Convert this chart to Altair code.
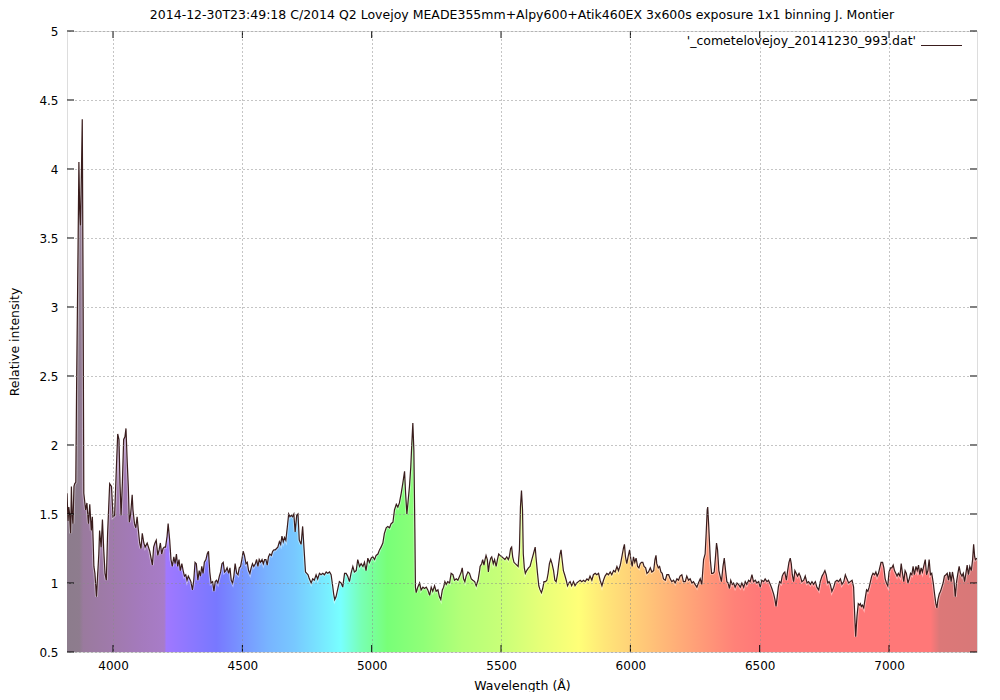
import altair as alt
import pandas as pd

FONT = "DejaVu Sans"
W, H = 910, 621
X_MIN, X_MAX = 3822, 7340

# ---- spectrum (wavelength in Angstrom, relative intensity) ----
wl_cn = [3822, 3826, 3829, 3832, 3836, 3839, 3842, 3845, 3849, 3852, 3856, 3859, 3864, 3868,
         3871, 3874, 3878, 3881, 3884, 3887]
in_cn = [1.65, 1.45, 1.55, 1.50, 1.36, 1.70, 1.50, 1.43, 1.70, 1.72, 1.73, 2.40, 3.30, 4.05,
         3.70, 3.59, 4.00, 4.36, 3.20, 1.65]

wl_violet = [3894, 3899, 3905, 3910, 3916, 3920, 3923, 3926, 3930, 3936, 3939, 3945, 3948, 3954,
             3959, 3964, 3969, 3974, 3979, 3987, 3994, 4000, 4006, 4013, 4018, 4023, 4027, 4031,
             4036, 4041, 4046, 4050, 4055, 4059, 4063, 4068, 4074, 4077, 4083, 4088, 4093, 4098,
             4103, 4108, 4113, 4119, 4124, 4132, 4137, 4142, 4147, 4152, 4157, 4162, 4167, 4173,
             4178, 4183, 4188, 4193, 4198, 4203, 4209, 4213, 4219, 4224, 4229, 4235, 4240, 4245,
             4250, 4255, 4260, 4266, 4271, 4276, 4281, 4286, 4291, 4296, 4301, 4307, 4312, 4317,
             4322, 4328, 4333, 4338, 4343, 4348, 4353, 4359, 4364, 4369, 4374, 4379, 4385, 4390,
             4395, 4400]
in_violet = [1.53, 1.58, 1.43, 1.57, 1.38, 1.48, 1.31, 1.12, 1.07, 0.90, 1.01, 1.21, 1.38, 1.26,
             1.46, 1.24, 1.07, 1.02, 1.36, 1.72, 1.70, 1.48, 1.49, 1.84, 2.08, 2.04, 1.72, 1.49,
             1.72, 2.04, 2.06, 2.12, 1.87, 1.70, 1.44, 1.50, 1.64, 1.53, 1.43, 1.40, 1.48, 1.38,
             1.29, 1.25, 1.36, 1.29, 1.26, 1.29, 1.26, 1.23, 1.18, 1.13, 1.26, 1.29, 1.31, 1.20,
             1.24, 1.29, 1.21, 1.25, 1.26, 1.26, 1.34, 1.43, 1.31, 1.17, 1.12, 1.19, 1.14, 1.21,
             1.12, 1.17, 1.09, 1.14, 1.09, 1.05, 1.06, 1.02, 1.05, 1.03, 1.01, 0.95, 1.02, 1.15,
             1.14, 1.02, 1.09, 1.05, 1.12, 1.07, 1.15, 1.17, 1.21, 1.23, 1.08, 1.00, 1.01, 0.94,
             1.01, 1.02]

wl_blue = [4405, 4411, 4416, 4421, 4426, 4431, 4436, 4441, 4447, 4452, 4457, 4462, 4467, 4472,
           4478, 4483, 4488, 4493, 4498, 4503, 4508, 4514, 4519, 4524, 4529, 4534, 4539, 4544,
           4550, 4555, 4560, 4565, 4570, 4576, 4581, 4586, 4591, 4596, 4601, 4606, 4612, 4617,
           4622, 4627, 4632, 4637, 4643, 4648, 4653, 4658, 4663, 4668, 4674, 4679, 4684, 4689,
           4694, 4699, 4704, 4710, 4715, 4720, 4727, 4733, 4738, 4744, 4749, 4754, 4759, 4766,
           4772, 4778, 4785, 4791, 4798, 4804, 4811, 4817, 4824, 4830, 4837, 4843, 4849, 4853,
           4857, 4862, 4869, 4875, 4882, 4888, 4895]
in_blue = [1.00, 1.05, 1.08, 1.14, 1.15, 1.08, 1.09, 1.11, 1.07, 1.11, 1.02, 1.00, 1.05, 1.14,
           1.07, 1.06, 1.11, 1.12, 1.17, 1.23, 1.20, 1.14, 1.15, 1.09, 1.07, 1.11, 1.14, 1.12,
           1.14, 1.17, 1.12, 1.17, 1.15, 1.17, 1.14, 1.17, 1.17, 1.13, 1.19, 1.21, 1.20, 1.23,
           1.24, 1.24, 1.25, 1.26, 1.30, 1.28, 1.34, 1.30, 1.33, 1.31, 1.41, 1.50, 1.48, 1.49,
           1.48, 1.50, 1.37, 1.49, 1.50, 1.31, 1.28, 1.41, 1.26, 1.08, 1.07, 1.06, 1.03, 1.00,
           1.03, 1.02, 1.06, 1.03, 1.07, 1.06, 1.07, 1.06, 1.08, 1.07, 1.08, 1.06, 0.98, 0.92,
           0.88, 0.90, 0.96, 1.01, 1.00, 0.97, 1.07]

wl_green = [4901, 4907, 4914, 4920, 4927, 4933, 4940, 4946, 4953, 4959, 4966, 4972, 4978, 4985,
            4991, 4998, 5004, 5011, 5017, 5024, 5030, 5036, 5043, 5049, 5056, 5062, 5069, 5075,
            5082, 5088, 5095, 5101, 5107, 5114, 5120, 5127, 5131, 5136, 5141, 5146, 5151, 5155,
            5159, 5163, 5167, 5169, 5172, 5178, 5185, 5191, 5198, 5204, 5211, 5217, 5224, 5230,
            5236, 5243, 5249, 5256, 5262, 5267, 5273, 5278, 5283, 5288, 5294, 5301, 5307, 5314,
            5320, 5327, 5333, 5340, 5346, 5350, 5355, 5360, 5365, 5372, 5378, 5385, 5391, 5398,
            5404, 5411, 5417]
in_green = [1.07, 1.05, 1.01, 1.07, 1.12, 1.08, 1.09, 1.17, 1.12, 1.14, 1.12, 1.15, 1.09, 1.18,
            1.15, 1.18, 1.19, 1.17, 1.20, 1.21, 1.24, 1.26, 1.29, 1.36, 1.40, 1.41, 1.40, 1.43,
            1.44, 1.53, 1.57, 1.55, 1.58, 1.65, 1.72, 1.81, 1.65, 1.50, 1.60, 1.70, 1.84, 2.01,
            2.16, 1.96, 1.36, 0.97, 0.93, 0.97, 1.00, 0.95, 0.97, 0.96, 0.97, 0.95, 0.91, 0.97,
            0.94, 0.98, 0.94, 0.95, 0.90, 0.88, 0.95, 0.97, 1.01, 0.99, 1.01, 1.00, 1.07, 1.06,
            1.02, 1.03, 1.02, 1.05, 1.08, 1.11, 1.03, 1.01, 1.05, 1.08, 1.07, 1.03, 1.02, 1.01,
            0.98, 1.02, 1.09]

wl_yellow = [5419, 5425, 5429, 5434, 5438, 5442, 5447, 5451, 5455, 5460, 5464, 5470, 5475, 5481,
             5486, 5491, 5496, 5503, 5509, 5515, 5522, 5528, 5532, 5537, 5541, 5545, 5550, 5555,
             5561, 5566, 5571, 5575, 5579, 5583, 5586, 5590, 5594, 5599, 5606, 5612, 5619, 5625,
             5632, 5635, 5641, 5646, 5651, 5656, 5661, 5666, 5672, 5677, 5682, 5687, 5692, 5697,
             5703, 5708, 5713, 5718, 5723, 5728, 5732, 5736, 5741, 5746, 5752, 5757, 5762, 5767,
             5773, 5780, 5786, 5793, 5799, 5806, 5812, 5819, 5825, 5832, 5838, 5844, 5851, 5857,
             5864, 5870, 5877, 5883, 5890, 5896, 5902, 5909, 5915, 5922, 5928, 5935, 5941, 5948,
             5954, 5961, 5967, 5973, 5977, 5981, 5986, 5991, 5997, 6002, 6007, 6012, 6017, 6022,
             6028, 6033, 6038, 6043, 6048, 6053, 6059, 6064, 6070, 6077, 6083, 6090, 6095, 6099,
             6102, 6108, 6113, 6118, 6123, 6128, 6135, 6141, 6148, 6154]
in_yellow = [1.12, 1.14, 1.17, 1.13, 1.17, 1.20, 1.17, 1.08, 1.14, 1.18, 1.19, 1.14, 1.17, 1.12,
             1.17, 1.21, 1.20, 1.19, 1.18, 1.17, 1.19, 1.17, 1.19, 1.25, 1.26, 1.19, 1.15, 1.14,
             1.13, 1.12, 1.24, 1.55, 1.67, 1.53, 1.21, 1.11, 1.07, 1.09, 1.11, 1.12, 1.17, 1.21,
             1.26, 1.19, 1.07, 0.98, 0.95, 0.93, 0.96, 1.01, 1.01, 1.02, 1.07, 1.14, 1.17, 1.14,
             1.09, 1.02, 1.01, 1.06, 1.14, 1.21, 1.24, 1.17, 1.09, 1.06, 1.02, 0.98, 1.00, 1.01,
             0.98, 1.01, 0.98, 1.00, 1.01, 1.02, 1.01, 1.02, 1.01, 1.03, 1.02, 1.05, 1.02, 1.06,
             1.07, 1.06, 1.07, 1.02, 0.98, 1.02, 1.05, 1.07, 1.06, 1.08, 1.06, 1.09, 1.08, 1.12,
             1.09, 1.13, 1.19, 1.25, 1.28, 1.19, 1.14, 1.19, 1.24, 1.17, 1.12, 1.19, 1.15, 1.18,
             1.12, 1.11, 1.14, 1.15, 1.15, 1.12, 1.11, 1.07, 1.08, 1.11, 1.08, 1.09, 1.17, 1.20,
             1.14, 1.11, 1.12, 1.08, 1.07, 1.03, 1.02, 1.06, 1.06, 1.03]

wl_red = [6160, 6167, 6173, 6180, 6186, 6192, 6199, 6205, 6212, 6218, 6225, 6231, 6238, 6244,
          6250, 6257, 6263, 6270, 6276, 6283, 6289, 6293, 6297, 6299, 6303, 6309, 6314, 6319,
          6324, 6329, 6333, 6337, 6342, 6347, 6352, 6358, 6363, 6368, 6373, 6378, 6383, 6388,
          6394, 6399, 6405, 6412, 6418, 6425, 6431, 6438, 6444, 6450, 6457, 6463, 6470, 6476,
          6483, 6489, 6496, 6502, 6508, 6515, 6521, 6528, 6534, 6541, 6547, 6554, 6559, 6563,
          6567, 6572, 6577, 6582, 6587, 6592, 6597, 6603, 6608, 6613, 6618, 6622, 6626, 6631,
          6636, 6641, 6646, 6652, 6657, 6663, 6670, 6676, 6683, 6689, 6696, 6702, 6708, 6715,
          6721, 6728, 6734, 6741, 6747, 6752, 6757, 6763, 6768, 6773, 6779, 6786, 6792, 6799,
          6805, 6812, 6818, 6825, 6831, 6837, 6844, 6850, 6857, 6863, 6867, 6871, 6876, 6881,
          6886]
in_red = [1.01, 1.02, 1.00, 1.03, 1.02, 1.05, 1.06, 1.01, 1.01, 1.05, 1.02, 1.03, 1.00, 1.01,
          0.99, 0.97, 1.00, 1.03, 0.99, 1.17, 1.21, 1.36, 1.53, 1.55, 1.41, 1.17, 1.07, 1.07,
          1.08, 1.19, 1.29, 1.24, 1.09, 1.05, 1.01, 1.12, 1.18, 1.09, 1.01, 1.00, 0.96, 1.02,
          0.99, 1.00, 0.97, 1.00, 0.99, 0.97, 1.00, 0.97, 1.01, 0.99, 1.02, 1.01, 1.06, 1.01,
          1.02, 1.00, 1.01, 0.97, 1.02, 1.01, 1.03, 1.01, 1.02, 0.99, 0.96, 0.92, 0.88, 0.83,
          0.89, 0.97, 1.01, 1.00, 1.05, 1.07, 1.08, 1.02, 1.09, 1.15, 1.18, 1.14, 1.06, 1.01,
          1.09, 1.07, 1.05, 1.07, 1.05, 1.01, 1.02, 1.05, 1.00, 1.01, 0.99, 1.01, 0.99, 1.01,
          0.97, 0.95, 1.01, 1.05, 1.07, 1.09, 1.06, 1.00, 1.01, 0.99, 0.94, 0.97, 1.01, 1.02,
          1.01, 1.03, 0.99, 1.01, 1.06, 1.03, 1.00, 1.01, 1.02, 0.97, 0.78, 0.61, 0.76, 0.85,
          0.84]

wl_ir = [6889, 6893, 6897, 6902, 6907, 6913, 6918, 6923, 6928, 6933, 6938, 6944, 6949, 6954,
         6959, 6964, 6969, 6975, 6980, 6985, 6990, 6995, 7000, 7006, 7011, 7016, 7021, 7026,
         7031, 7036, 7042, 7047, 7052, 7057, 7062, 7067, 7073, 7078, 7083, 7088, 7093, 7098,
         7104, 7109, 7114, 7119, 7124, 7129, 7135, 7140, 7145, 7150, 7155, 7160, 7165, 7171,
         7176, 7181, 7185, 7189, 7194, 7199, 7204, 7209, 7214, 7220, 7225, 7230, 7235, 7240,
         7245, 7251, 7256, 7261, 7266, 7271, 7276, 7282, 7287, 7292, 7297, 7302, 7307, 7312,
         7318, 7323, 7327, 7331, 7334, 7340]
in_ir = [0.85, 0.83, 0.84, 0.82, 0.88, 0.95, 0.94, 0.97, 1.01, 1.05, 1.07, 1.06, 1.08, 1.05,
         1.07, 1.11, 1.15, 1.15, 1.11, 1.03, 1.00, 0.98, 1.08, 1.11, 1.11, 1.13, 1.09, 1.07,
         1.05, 1.07, 1.05, 1.14, 1.07, 1.01, 1.09, 1.07, 1.00, 1.03, 1.07, 1.06, 1.12, 1.06,
         1.12, 1.09, 1.13, 1.06, 1.11, 1.08, 1.13, 1.17, 1.06, 1.09, 1.17, 1.06, 1.07, 1.00,
         0.92, 0.85, 0.82, 0.88, 0.92, 0.94, 0.97, 1.00, 1.05, 1.06, 1.07, 1.02, 1.08, 1.01,
         1.08, 1.02, 0.90, 1.01, 1.07, 1.12, 1.07, 1.05, 1.07, 1.01, 1.07, 1.13, 1.06, 1.12,
         1.09, 1.17, 1.28, 1.19, 1.17, 1.18]

x_ticks = [4000, 4500, 5000, 5500, 6000, 6500, 7000]
y_ticks = [0.5, 1, 1.5, 2, 2.5, 3, 3.5, 4, 4.5, 5]

title_text = ("2014-12-30T23:49:18 C/2014 Q2 Lovejoy MEADE355mm+Alpy600+Atik460EX "
              "3x600s exposure 1x1 binning J. Montier")
key_text = "'_cometelovejoy_20141230_993.dat'"

# ---- rainbow fill under the curve (colour stops by wavelength) ----
stop_wl = [3822, 3870, 3885, 4000, 4100, 4198, 4206, 4300, 4400, 4500, 4600, 4700, 4800,
           4880, 4960, 5060, 5200, 5350, 5500, 5650, 5800, 5900, 6000, 6100, 6200, 6300,
           6400, 6500, 7160, 7195, 7340]
stop_col = ["#8c7c8c", "#8e7c8e", "#9a7a9e", "#a07aac", "#a47abc", "#a87cc8", "#a078ff",
            "#8c78ff", "#7878ff", "#7896ff", "#78b4ff", "#78c8ff", "#78e6ff", "#78ffff",
            "#78ffb4", "#78ff78", "#90ff78", "#b4ff78", "#c8ff78", "#e6ff78", "#ffff78",
            "#ffe678", "#ffd278", "#ffbe78", "#ffaa78", "#ff9678", "#ff8278", "#ff7878",
            "#ff7878", "#dc7878", "#d87878"]

gradient = alt.LinearGradient(
    gradient="linear", x1=0, x2=1, y1=0, y2=0,
    stops=[alt.GradientStop(color=c, offset=(w - X_MIN) / (X_MAX - X_MIN))
           for w, c in zip(stop_wl, stop_col)],
)

df = pd.DataFrame({
    "wavelength": wl_cn + wl_violet + wl_blue + wl_green + wl_yellow + wl_red + wl_ir,
    "intensity": in_cn + in_violet + in_blue + in_green + in_yellow + in_red + in_ir,
})

xscale = alt.Scale(domain=[X_MIN, X_MAX], nice=False, zero=False)
yscale = alt.Scale(domain=[0.5, 5], nice=False, zero=False)

xaxis = alt.Axis(values=x_ticks, format="d", grid=True, gridColor="#8a8a8a", gridDash=[1, 3],
                 gridWidth=1, ticks=False, tickSize=0, domain=False, labelPadding=8,
                 labelFont=FONT, labelFontSize=12, labelColor="black",
                 title="Wavelength (Å)", titleFont=FONT, titleFontSize=12.5,
                 titleFontWeight="normal", titleColor="black", titleY=33,
                 titleBaseline="middle", zindex=1)
yaxis = alt.Axis(values=y_ticks, format="~g", grid=True, gridColor="#8a8a8a", gridDash=[1, 3],
                 gridWidth=1, ticks=False, tickSize=0, domain=False, labelPadding=9,
                 labelFont=FONT, labelFontSize=12, labelColor="black",
                 title="Relative intensity", titleFont=FONT, titleFontSize=12.5,
                 titleFontWeight="normal", titleColor="black", titleX=-53, titleY=H / 2,
                 titleAngle=270, titleAlign="center", titleBaseline="middle", zindex=1)

base = alt.Chart(df)
xe = alt.X("wavelength:Q", scale=xscale, axis=xaxis)
ye = alt.Y("intensity:Q", scale=yscale, axis=yaxis)

area = base.mark_area(color=gradient, clip=True, interpolate="linear").encode(
    x=xe, y=ye, y2=alt.datum(0.5),
)
halo = base.mark_line(color="#ffffff", opacity=0.45, strokeWidth=3, clip=True).encode(x=xe, y=ye)
line = base.mark_line(color="#3a1d1d", strokeWidth=1.2, clip=True).encode(x=xe, y=ye)

tx = pd.DataFrame({"wavelength": x_ticks})
ty = pd.DataFrame({"intensity": y_ticks})
tick_bottom = alt.Chart(tx).mark_rule(color="black").encode(x=xe, y=alt.value(H), y2=alt.value(H - 7))
tick_top = alt.Chart(tx).mark_rule(color="black").encode(x=xe, y=alt.value(0), y2=alt.value(7))
tick_left = alt.Chart(ty).mark_rule(color="black").encode(y=ye, x=alt.value(0), x2=alt.value(7))
tick_right = alt.Chart(ty).mark_rule(color="black").encode(y=ye, x=alt.value(W), x2=alt.value(W - 7))

title_mark = alt.Chart(pd.DataFrame({"t": [title_text]})).mark_text(
    align="center", baseline="middle", font=FONT, fontSize=12.5, color="black"
).encode(text="t:N", x=alt.value(W / 2), y=alt.value(-16))

key_label = alt.Chart(pd.DataFrame({"t": [key_text]})).mark_text(
    align="right", baseline="alphabetic", font=FONT, fontSize=12.5, color="black"
).encode(text="t:N", x=alt.value(W - 61), y=alt.value(14))
key_line = alt.Chart(pd.DataFrame({"t": [key_text]})).mark_rule(
    color="#3a1d1d", strokeWidth=1.2
).encode(x=alt.value(W - 56), x2=alt.value(W - 15), y=alt.value(14.5))

chart = alt.layer(
    area, halo, line, tick_bottom, tick_top, tick_left, tick_right,
    title_mark, key_label, key_line
).properties(
    width=W, height=H,
    autosize="none",
    padding={"left": 59, "top": 23, "right": 15, "bottom": 40},
).configure_view(stroke="black", strokeWidth=1).configure(background="white")

chart.save("out.html", embed_options={"renderer": "svg", "actions": False})
